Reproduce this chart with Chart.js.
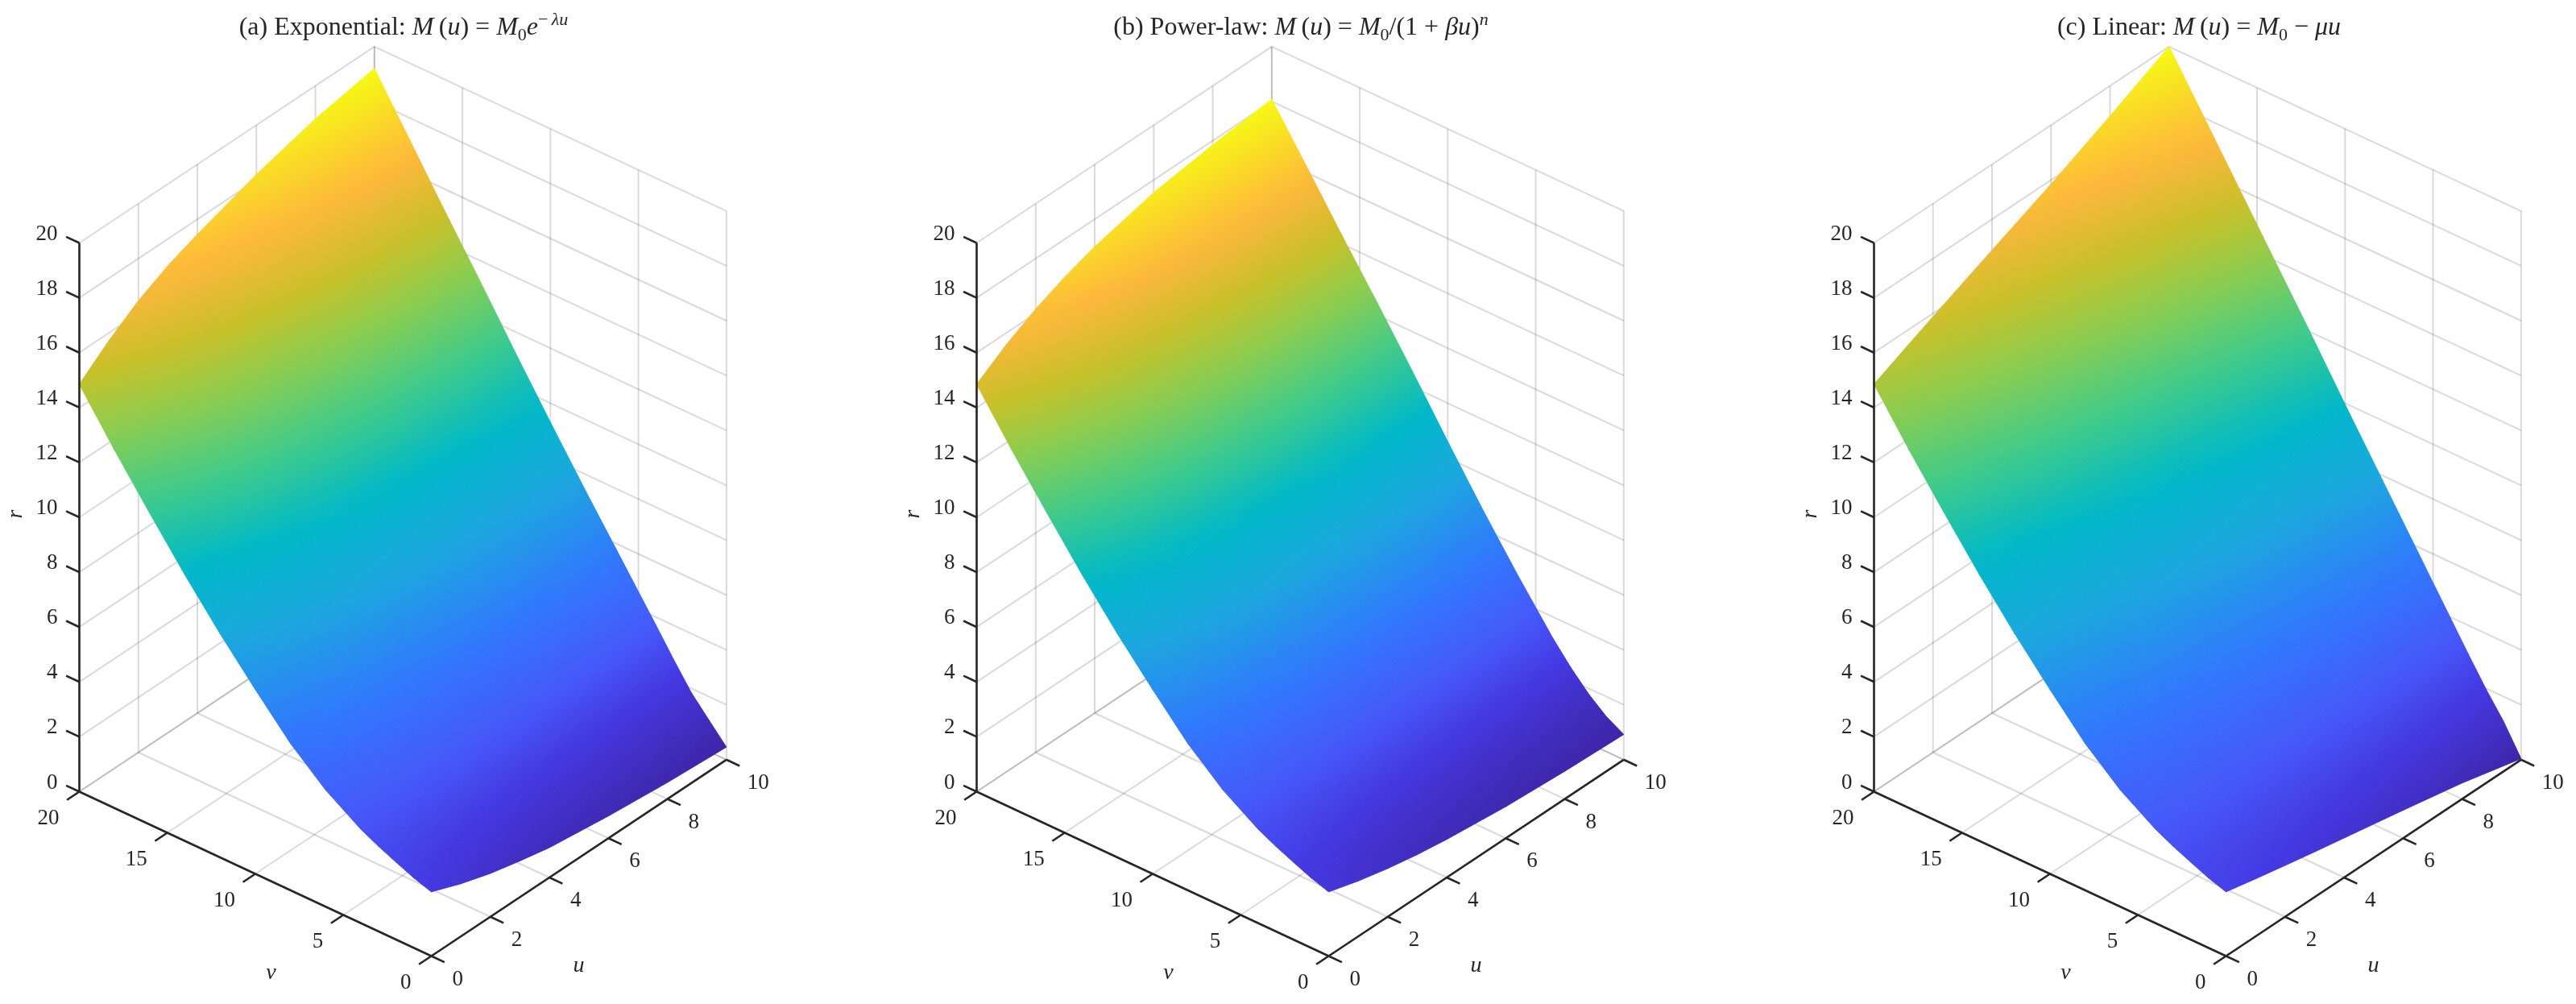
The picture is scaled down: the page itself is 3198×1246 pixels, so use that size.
<!DOCTYPE html>
<html>
<head>
<meta charset="utf-8">
<style>
  html, body { margin: 0; background: #fff; }
  #fig { position: relative; width: 3198px; height: 1246px; overflow: hidden; }
  canvas { position: absolute; top: 0; }
  .title { position: absolute; top: 12px; transform: translateX(-50%); white-space: nowrap;
           font: 32px "Liberation Serif", serif; color: #262626; line-height: 40px; }
  .title sub, .title sup { font-size: 22px; line-height: 0; }
</style>
<script src="https://cdn.jsdelivr.net/npm/chart.js@4/dist/chart.umd.js"></script>
</head>
<body>
<div id="fig"></div>
<script>
// grid the surface was read on
const uGrid = [0, 1, 2, 3, 4, 6, 8, 10];
const vGrid = [0, 1, 2, 3, 4, 6, 8, 10, 12, 14, 16, 18, 20];

// r(u, v), one row per vGrid entry
const rExponential = [
  [2.34, 1.92, 1.58, 1.32, 1.09, 0.81, 0.60, 0.46],
  [2.55, 2.26, 2.01, 1.82, 1.68, 1.43, 1.26, 1.15],
  [2.82, 2.62, 2.45, 2.32, 2.21, 2.04, 1.92, 1.85],
  [3.10, 3.03, 2.97, 2.92, 2.88, 2.82, 2.78, 2.75],
  [3.42, 3.48, 3.53, 3.57, 3.60, 3.64, 3.68, 3.70],
  [4.25, 4.52, 4.75, 4.93, 5.06, 5.29, 5.45, 5.55],
  [5.35, 5.78, 6.14, 6.42, 6.63, 6.99, 7.25, 7.40],
  [6.72, 7.26, 7.71, 8.06, 8.33, 8.78, 9.11, 9.30],
  [8.15, 8.80, 9.34, 9.76, 10.09, 10.63, 11.02, 11.25],
  [9.70, 10.45, 11.07, 11.55, 11.92, 12.54, 12.98, 13.25],
  [11.35, 12.16, 12.83, 13.35, 13.76, 14.43, 14.91, 15.20],
  [13.05, 13.92, 14.65, 15.21, 15.64, 16.37, 16.89, 17.20],
  [14.85, 15.72, 16.46, 17.02, 17.45, 18.20, 18.80, 19.20]
];
const rPowerLaw = [
  [2.34, 2.02, 1.76, 1.55, 1.39, 1.15, 1.01, 0.92],
  [2.55, 2.27, 2.03, 1.85, 1.71, 1.49, 1.37, 1.28],
  [2.82, 2.59, 2.41, 2.26, 2.14, 1.97, 1.87, 1.80],
  [3.10, 2.95, 2.84, 2.74, 2.67, 2.56, 2.50, 2.45],
  [3.42, 3.37, 3.33, 3.30, 3.27, 3.24, 3.22, 3.20],
  [4.25, 4.40, 4.51, 4.61, 4.68, 4.79, 4.85, 4.90],
  [5.35, 5.65, 5.90, 6.10, 6.25, 6.47, 6.61, 6.70],
  [6.72, 7.14, 7.48, 7.76, 7.97, 8.28, 8.47, 8.60],
  [8.15, 8.69, 9.12, 9.47, 9.74, 10.15, 10.38, 10.55],
  [9.70, 10.32, 10.82, 11.22, 11.53, 11.99, 12.26, 12.45],
  [11.35, 12.01, 12.55, 12.98, 13.31, 13.80, 14.09, 14.30],
  [13.05, 13.76, 14.33, 14.79, 15.14, 15.67, 15.98, 16.20],
  [14.85, 15.57, 16.16, 16.63, 17.00, 17.54, 17.85, 18.08]
];
const rLinear = [
  [2.34, 2.10, 1.87, 1.65, 1.44, 1.02, 0.58, 0.04],
  [2.55, 2.40, 2.26, 2.12, 1.98, 1.71, 1.43, 1.10],
  [2.82, 2.73, 2.65, 2.57, 2.49, 2.33, 2.17, 1.98],
  [3.10, 3.08, 3.07, 3.06, 3.04, 3.01, 2.98, 2.95],
  [3.42, 3.47, 3.53, 3.58, 3.63, 3.73, 3.83, 3.95],
  [4.25, 4.42, 4.59, 4.76, 4.91, 5.23, 5.57, 5.95],
  [5.35, 5.62, 5.88, 6.13, 6.37, 6.85, 7.37, 7.95],
  [6.72, 7.05, 7.37, 7.69, 7.98, 8.59, 9.22, 9.95],
  [8.15, 8.54, 8.93, 9.31, 9.66, 10.38, 11.13, 12.00],
  [9.70, 10.14, 10.57, 10.99, 11.38, 12.19, 13.03, 14.00],
  [11.35, 11.82, 12.29, 12.75, 13.17, 14.04, 14.95, 16.00],
  [13.05, 13.55, 14.05, 14.54, 14.99, 15.91, 16.89, 18.00],
  [14.85, 15.37, 15.88, 16.38, 16.87, 17.85, 18.90, 20.00]
];

// axis ticks
const uTicks = [0, 2, 4, 6, 8, 10];
const vTicks = [0, 5, 10, 15, 20];
const rTicks = [0, 2, 4, 6, 8, 10, 12, 14, 16, 18, 20];

// panels
const panelTitles = [
  '(a) Exponential: <i>M</i>&#8201;(<i>u</i>) = <i>M</i><sub>0</sub><i>e</i><sup>&#8722;&#8201;<i>&lambda;u</i></sup>',
  '(b) Power-law: <i>M</i>&#8201;(<i>u</i>) = <i>M</i><sub>0</sub>/(1 + <i>&beta;u</i>)<sup><i>n</i></sup>',
  '(c) Linear: <i>M</i>&#8201;(<i>u</i>) = <i>M</i><sub>0</sub> &#8722; <i>&mu;u</i>'
];
const panelSurfaces = [rExponential, rPowerLaw, rLinear];
const panelLeft = [0, 1066, 2132];
const panelShift = [0, 48, 96];
const titleCentre = [501, 1615, 2730];

// colour map, low r to high r
const colourPos = [0, 0.10, 0.17, 0.28, 0.40, 0.50, 0.60, 0.70, 0.78, 0.87, 1];
const colourVal = [
  [62, 38, 168], [68, 56, 225], [70, 88, 250], [48, 122, 252], [28, 168, 222],
  [0, 184, 200], [62, 203, 140], [140, 205, 80], [200, 192, 40], [254, 183, 60], [246, 250, 20]
];

const gridColour = 'rgba(38,38,38,0.17)';
const axisColour = '#262626';
const PANEL_W = 1066, PANEL_H = 1246;

// oblique view of the box, one unit of u, v, r on the page
function projector(shift) {
  return (u, v, r) => ({
    x: 535.5 + shift + 36.63 * u - 21.85 * v,
    y: 1186.5 - 24.37 * u - 10.2 * v - 34.05 * r
  });
}

function colourAt(t) {
  t = Math.min(1, Math.max(0, t));
  let i = 0;
  while (i < colourPos.length - 2 && t > colourPos[i + 1]) i++;
  const f = (t - colourPos[i]) / (colourPos[i + 1] - colourPos[i]);
  const c = colourVal[i].map((a, k) => Math.round(a + (colourVal[i + 1][k] - a) * f));
  return `rgb(${c[0]},${c[1]},${c[2]})`;
}

// fill for one triangle: r is linear across it, so a linear gradient is exact
function triangleShader(pts, rs, rMin, rMax) {
  let cached = null;
  return (c) => {
    if (cached) return cached;
    const sx = c.chart.scales.x, sy = c.chart.scales.y;
    const flat = colourAt((Math.min(...rs) - rMin) / (rMax - rMin));
    // scales are not placed yet on the first pass
    if (!sx || !sy || !c.chart.chartArea) return flat;
    const p = pts.map(q => ({ x: sx.getPixelForValue(q.x), y: sy.getPixelForValue(q.y) }));
    const det = (p[1].x - p[0].x) * (p[2].y - p[0].y) - (p[2].x - p[0].x) * (p[1].y - p[0].y);
    if (!det || !isFinite(det)) return flat;
    const a = ((rs[1] - rs[0]) * (p[2].y - p[0].y) - (rs[2] - rs[0]) * (p[1].y - p[0].y)) / det;
    const b = ((p[1].x - p[0].x) * (rs[2] - rs[0]) - (p[2].x - p[0].x) * (rs[1] - rs[0])) / det;
    const g2 = a * a + b * b;
    if (!(g2 > 0)) return flat;
    const lo = rs.indexOf(Math.min(...rs));
    const rLo = rs[lo], rHi = Math.max(...rs);
    const k = (rHi - rLo) / g2;
    const grad = c.chart.ctx.createLinearGradient(p[lo].x, p[lo].y, p[lo].x + a * k, p[lo].y + b * k);
    for (let s = 0; s <= 4; s++) {
      grad.addColorStop(s / 4, colourAt((rLo + (rHi - rLo) * s / 4 - rMin) / (rMax - rMin)));
    }
    cached = grad;
    return grad;
  };
}

function lineSet(a, b, colour, width, order) {
  return {
    data: [a, b], parsing: false, borderColor: colour, borderWidth: width, pointRadius: 0,
    fill: false, order: order, clip: false, borderCapStyle: 'butt'
  };
}

function buildDatasets(table, P) {
  const sets = [];
  const uMax = uTicks[uTicks.length - 1], vMax = vTicks[vTicks.length - 1], rMax = rTicks[rTicks.length - 1];

  // gridlines on the floor and the two back walls
  const grid = (a, b) => sets.push(lineSet(a, b, gridColour, 2, 3));
  uTicks.forEach(u => {
    grid(P(u, 0, 0), P(u, vMax, 0));
    grid(P(u, vMax, 0), P(u, vMax, rMax));
  });
  vTicks.forEach(v => {
    grid(P(0, v, 0), P(uMax, v, 0));
    grid(P(uMax, v, 0), P(uMax, v, rMax));
  });
  rTicks.forEach(r => {
    grid(P(0, vMax, r), P(uMax, vMax, r));
    grid(P(uMax, vMax, r), P(uMax, 0, r));
  });

  // surface as shaded triangles
  const all = table.flat();
  const zMin = Math.min(...all), zMax = Math.max(...all);
  const tri = (ids) => {
    const pts = ids.map(([i, j]) => P(uGrid[i], vGrid[j], table[j][i]));
    const rs = ids.map(([i, j]) => table[j][i]);
    const shade = triangleShader(pts, rs, zMin, zMax);
    sets.push({
      data: [pts[0], pts[1], pts[2], pts[0]], parsing: false, fill: 'shape', order: 2, clip: false,
      backgroundColor: shade, borderColor: shade, borderWidth: 1, pointRadius: 0, borderJoinStyle: 'round'
    });
  };
  for (let j = 0; j < vGrid.length - 1; j++) {
    for (let i = 0; i < uGrid.length - 1; i++) {
      tri([[i, j], [i + 1, j], [i + 1, j + 1]]);
      tri([[i, j], [i + 1, j + 1], [i, j + 1]]);
    }
  }

  // black axes and ticks
  const ink = (a, b) => sets.push(lineSet(a, b, axisColour, 2.6, 1));
  ink(P(0, 0, 0), P(uMax, 0, 0));
  ink(P(0, 0, 0), P(0, vMax, 0));
  ink(P(0, vMax, 0), P(0, vMax, rMax));
  uTicks.forEach(u => ink(P(u, 0, 0), P(u, -0.75, 0)));
  vTicks.forEach(v => ink(P(0, v, 0), P(-0.42, v, 0)));
  rTicks.forEach(r => ink(P(0, vMax, r), P(0, vMax + 0.75, r)));
  return sets;
}

// tick labels and axis names follow the box, so they are placed from the same projection
function labelPlugin(P) {
  return {
    id: 'boxLabels',
    afterDraw(chart) {
      const ctx = chart.ctx, sx = chart.scales.x, sy = chart.scales.y;
      const put = (q, dx, dy, str, align, font, rot) => {
        ctx.save();
        ctx.translate(sx.getPixelForValue(q.x) + dx, sy.getPixelForValue(q.y) + dy);
        if (rot) ctx.rotate(rot);
        ctx.font = font;
        ctx.fillStyle = axisColour;
        ctx.textAlign = align;
        ctx.textBaseline = 'middle';
        ctx.fillText(str, 0, 0);
        ctx.restore();
      };
      const num = '27px "Liberation Serif", serif';
      const name = 'italic 28px "Liberation Serif", serif';
      rTicks.forEach(r => put(P(0, 20, r), -27, -11, String(r), 'right', num));
      vTicks.forEach(v => put(P(0, v, 0), -25, 33, String(v), 'right', num));
      uTicks.forEach(u => put(P(u, 0, 0), 26, 29, String(u), 'left', num));
      put(P(0, 0, 0), 183, 12, 'u', 'center', name);
      put(P(0, 0, 0), -199, 21, 'v', 'center', name);
      put(P(0, 20, 10), -79, -4, 'r', 'center', name, -Math.PI / 2);
    }
  };
}

const fig = document.getElementById('fig');
panelSurfaces.forEach((table, n) => {
  const canvas = document.createElement('canvas');
  canvas.width = PANEL_W;
  canvas.height = PANEL_H;
  canvas.style.left = panelLeft[n] + 'px';
  fig.appendChild(canvas);

  const t = document.createElement('div');
  t.className = 'title';
  t.style.left = titleCentre[n] + 'px';
  t.innerHTML = panelTitles[n];
  fig.appendChild(t);

  const P = projector(panelShift[n]);
  new Chart(canvas, {
    type: 'line',
    data: { datasets: buildDatasets(table, P) },
    options: {
      responsive: false,
      animation: false,
      devicePixelRatio: 1,
      events: [],
      layout: { padding: 0 },
      scales: {
        x: { type: 'linear', display: false, min: 0, max: PANEL_W },
        y: { type: 'linear', display: false, min: 0, max: PANEL_H, reverse: true }
      },
      plugins: { legend: { display: false }, tooltip: { enabled: false }, title: { display: false } }
    },
    plugins: [labelPlugin(P)]
  });
});
</script>
</body>
</html>
